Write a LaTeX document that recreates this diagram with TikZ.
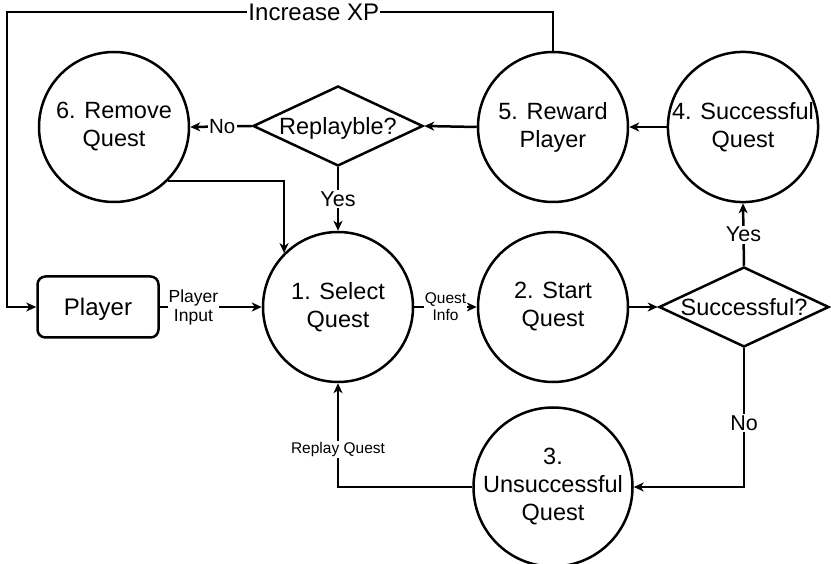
\documentclass[tikz,border=0pt]{standalone}
\usepackage{fontspec}
\setmainfont{Liberation Sans}
\usetikzlibrary{shapes.geometric,arrows.meta}
\begin{document}
\begin{tikzpicture}[x=1pt,y=-1pt, line width=2.5pt,
  circ/.style={circle, draw, minimum size=150pt, inner sep=0pt, align=center, font=\fontsize{23.5}{28}\selectfont},
  dia/.style={diamond, draw, aspect=2.1, inner sep=0pt, minimum width=170pt, minimum height=80pt, text depth=0pt, font=\fontsize{23.5}{27}\selectfont},
  box/.style={draw, rounded corners=8pt, minimum width=121pt, minimum height=61pt, text depth=0pt, font=\fontsize{24}{27}\selectfont},
  arr/.style={-{Stealth[length=10pt,width=9pt,inset=3pt]}},
  lbl/.style={fill=white, inner sep=1.5pt, font=\fontsize{21.5}{24}\selectfont},
  slbl/.style={fill=white, inner sep=1pt, align=center, font=\fontsize{17.5}{19}\selectfont}]
\useasboundingbox (0,0) rectangle (831,564);
\node[circ] (rem) at (114,127) {6. Remove\\Quest};
\node[dia] (rep) at (338,126) {\makebox[0pt]{Replayble?}};
\node[circ] (rew) at (553,127) {5. Reward\\Player};
\node[circ] (suc) at (743,127) {4. Successful\\Quest};
\node[circ] (sel) at (338,307) {1. Select\\Quest};
\node[circ] (start) at (553,307) {2. Start\\Quest};
\node[dia] (sq) at (744,307) {\makebox[0pt]{Successful?}};
\node[circ] (uns) at (553,487) {3.\\Unsuccessful\\Quest};
\node[box] (player) at (98,307) {Player};
\coordinate (tr) at (553,12);
\coordinate (tl) at (7,12);

\draw[arr] (rep.west) -- node[lbl, pos=0.48, font=\fontsize{20.5}{24}\selectfont]{No} (rem.east);
\draw[arr] (rep.south) -- node[lbl]{Yes} (sel.north);
\draw[arr] (rew.west) -- (rep.east);
\draw[arr] (suc.west) -- (rew.east);
\draw[arr] (rem.-45) -| (sel.135);
\draw[arr] (rew.north) -- (tr) -- node[lbl, pos=0.438, inner sep=1pt, font=\fontsize{24}{26}\selectfont]{Increase XP} (tl) |- (player.west);
\draw[arr] (player.east) -- node[slbl, pos=0.33]{Player\\Input} (sel.west);
\draw[arr] (sel.east) -- node[slbl, font=\fontsize{15.5}{17}\selectfont]{Quest\\Info} (start.west);
\draw[arr] (start.east) -- (sq.west);
\draw[arr] (sq.north) -- node[lbl]{Yes} (suc.south);
\draw[arr] (sq.south) |- node[lbl, pos=0.27]{No} (uns.east);
\draw[arr] (uns.west) -| node[slbl, pos=0.68, font=\fontsize{15.5}{17}\selectfont]{Replay Quest} (sel.south);
\end{tikzpicture}
\end{document}
